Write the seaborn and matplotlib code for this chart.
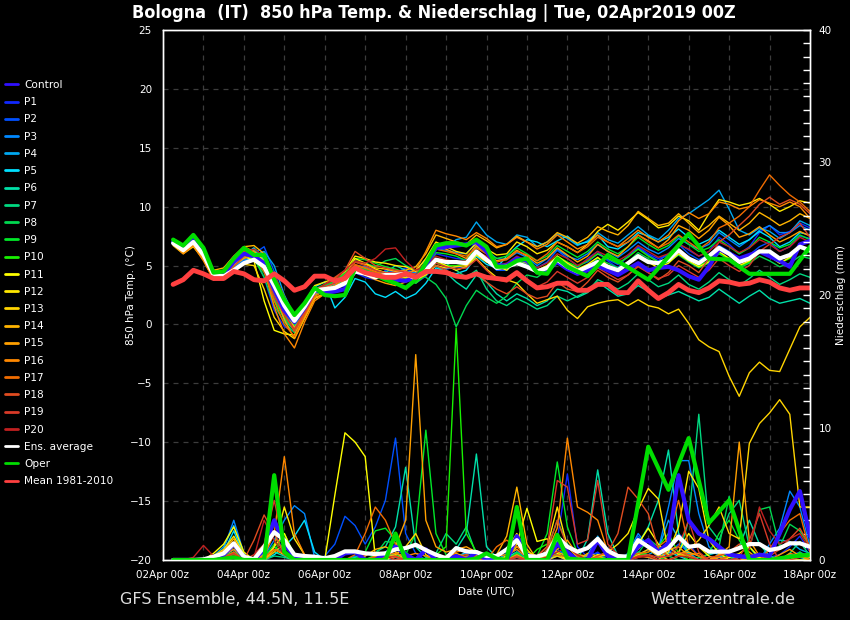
import numpy as np
import pandas as pd
import matplotlib
matplotlib.use("Agg")
import matplotlib.pyplot as plt
from matplotlib.lines import Line2D
from matplotlib.ticker import MultipleLocator
import seaborn as sns

# ------------------------------------------------------------
# DATA  (6-hourly steps, +6h ... +384h from 02Apr2019 00Z)
# ------------------------------------------------------------
STEPS = list(range(6, 385, 6))
OPER_STEPS = list(range(6, 241, 6)) + list(range(252, 385, 12))
TICK_HOURS = list(range(0, 385, 48))
TICK_LABELS = ["02Apr 00z", "04Apr 00z", "06Apr 00z", "08Apr 00z", "10Apr 00z",
               "12Apr 00z", "14Apr 00z", "16Apr 00z", "18Apr 00z"]

MEMBERS = ["Control"] + [f"P{i}" for i in range(1, 21)]
MEMBER_COLORS = ["#3010ff", "#1028ff", "#0050ff", "#0088ff", "#00a8f0", "#00e0ff",
                 "#00e0a8", "#00d880", "#00d850", "#00e828", "#18f000",
                 "#ffff00", "#ffe800", "#ffd400", "#ffb400", "#ffa000",
                 "#ff8800", "#f06c00", "#e04c20", "#d83a28", "#c02020"]
ENS_COLOR = "#ffffff"
OPER_COLOR = "#00dd00"
CLIM_COLOR = "#ff4040"

# --- 850 hPa temperature (°C) ---
T_ENS = [6.9, 6.3, 7.0, 5.9, 4.2, 4.1, 4.6, 5.2, 5.5, 4.9, 3.3, 1.6, 0.3, 1.5, 2.9, 3.0,
         3.1, 3.5, 4.5, 4.3, 4.0, 4.2, 4.2, 4.3, 3.9, 4.6, 5.5, 5.3, 5.3, 5.2, 6.2, 5.5,
         4.8, 4.9, 5.2, 4.9, 4.5, 4.8, 5.5, 4.9, 4.5, 4.9, 5.3, 4.9, 4.6, 5.2, 5.8, 5.3,
         5.2, 5.5, 6.3, 5.6, 5.2, 5.8, 6.5, 6.0, 5.3, 5.6, 6.2, 6.2, 5.6, 5.9, 6.6, 6.3]
T_CLIM = [3.4, 3.8, 4.6, 4.3, 3.9, 3.9, 4.5, 4.3, 3.8, 3.7, 4.3, 3.7, 2.9, 3.2, 4.1, 4.1,
          3.7, 3.9, 4.8, 4.4, 4.2, 4.0, 4.0, 4.3, 4.0, 4.5, 4.5, 4.4, 4.1, 4.0, 4.3, 4.0,
          3.9, 3.8, 4.4, 3.7, 3.1, 3.2, 3.5, 3.5, 2.9, 2.9, 3.4, 3.4, 2.7, 2.7, 3.7, 2.9,
          2.2, 2.7, 3.4, 2.9, 2.7, 3.1, 3.7, 3.6, 3.4, 3.5, 3.8, 3.6, 3.1, 2.9, 3.1, 3.1]
T_OPER = [7.2, 6.7, 7.6, 6.5, 4.4, 4.5, 5.6, 6.5, 5.9, 5.9, 3.8, 2.1, 0.8, 1.8, 3.1, 2.5,
          2.4, 2.5, 4.8, 4.5, 4.2, 3.8, 3.5, 3.1, 3.8, 5.2, 6.7, 6.9, 6.9, 6.7, 7.2, 6.6,
          4.9, 4.9, 5.4, 5.6, 4.4, 4.3, 5.6, 4.9,
          4.1, 5.9, 4.85, 3.8, 5.75, 7.7, 5.6, 5.5, 4.3, 4.3, 4.3, 6.6]

T_CONTROL = [7.0, 6.5, 7.3, 6.2, 4.3, 4.3, 5.3, 6.0, 5.8, 5.2, 3.0, 1.2, 0.2, 1.4, 2.9, 2.7,
             2.8, 3.0, 4.6, 4.4, 4.1, 4.0, 3.8, 3.7, 4.0, 5.0, 6.5, 6.6, 6.7, 6.8, 7.0, 6.2,
             5.0, 5.0, 5.6, 5.4, 4.5, 4.6, 5.3, 4.7, 4.3, 4.6, 5.0, 4.6, 4.2, 4.7, 5.2, 4.6,
             4.8, 4.9, 4.6, 4.1, 3.8, 4.9, 6.4, 6.0, 5.6, 5.9, 6.2, 5.8, 5.4, 4.9, 6.8, 7.1]
T_P1 = [7.1, 6.4, 7.2, 6.0, 4.0, 4.3, 5.0, 5.6, 5.8, 4.0, 1.2, -0.2, -0.6, 1.0, 2.6, 2.8,
        3.0, 3.3, 4.4, 4.0, 3.8, 4.6, 4.4, 4.8, 4.2, 4.9, 6.0, 5.8, 5.6, 5.5, 6.8, 6.0,
        5.2, 5.0, 5.6, 5.0, 4.3, 4.9, 5.8, 5.2, 4.8, 5.6, 6.2, 5.4, 4.8, 5.9, 6.6, 6.0,
        5.6, 5.9, 6.9, 6.3, 5.8, 6.2, 7.4, 6.8, 6.0, 6.6, 7.8, 8.4, 7.6, 7.9, 8.6, 8.2]
T_P2 = [6.8, 6.2, 6.9, 5.8, 4.3, 4.0, 4.8, 5.4, 6.0, 6.6, 4.5, 2.0, 0.6, 1.2, 2.8, 3.3,
        3.4, 3.8, 4.8, 4.7, 4.3, 4.3, 4.6, 4.0, 3.5, 4.1, 5.0, 4.7, 4.9, 4.8, 6.0, 5.5,
        4.6, 4.6, 5.4, 5.2, 4.8, 5.3, 6.3, 5.6, 5.0, 5.3, 6.0, 5.5, 5.1, 5.8, 6.5, 5.9,
        5.4, 6.0, 6.8, 6.0, 5.5, 5.9, 6.7, 6.2, 5.6, 5.9, 6.6, 7.0, 6.2, 6.6, 7.5, 7.3]
T_P3 = [7.0, 6.3, 7.0, 5.9, 4.1, 4.2, 4.9, 5.5, 5.6, 5.0, 2.6, 0.5, -0.3, 1.3, 3.0, 3.2,
        3.4, 4.0, 5.0, 4.9, 4.6, 4.4, 4.0, 4.5, 4.4, 5.1, 6.4, 6.3, 6.1, 6.0, 7.0, 6.3,
        5.6, 5.5, 6.1, 5.7, 5.0, 5.6, 6.4, 5.8, 5.5, 6.0, 6.8, 6.2, 5.7, 6.3, 7.0, 6.4,
        6.0, 6.5, 7.3, 6.8, 6.4, 6.8, 7.8, 7.2, 6.6, 7.2, 8.0, 8.4, 7.8, 7.8, 8.4, 8.0]
T_P4 = [7.2, 6.5, 7.1, 6.0, 4.4, 4.2, 4.7, 5.3, 5.9, 6.2, 5.0, 2.5, 0.7, 1.6, 2.9, 2.7,
        3.2, 3.3, 4.9, 4.6, 4.2, 4.5, 4.0, 4.4, 4.6, 5.5, 6.8, 6.5, 7.2, 7.4, 8.7, 7.6,
        7.0, 6.8, 7.6, 7.4, 6.6, 7.0, 7.7, 7.3, 6.7, 7.1, 7.8, 7.2, 6.9, 7.6, 8.3, 7.6,
        7.2, 8.0, 9.0, 9.4, 10.0, 10.6, 11.4, 9.8, 8.0, 7.6, 8.2, 7.9, 7.3, 7.8, 8.8, 8.4]
T_P5 = [7.0, 6.4, 7.0, 6.1, 4.5, 4.4, 5.0, 5.9, 6.5, 5.6, 3.5, 1.4, 0.1, 1.5, 3.2, 3.6,
        1.4, 2.3, 3.9, 3.6, 2.6, 2.3, 2.8, 2.2, 2.6, 3.5, 4.8, 4.5, 4.3, 4.6, 5.8, 5.1,
        4.8, 5.8, 6.6, 7.2, 7.0, 6.6, 7.1, 7.5, 6.8, 7.0, 7.6, 6.6, 6.4, 7.0, 7.8, 7.5,
        7.0, 7.4, 8.1, 7.4, 6.8, 7.2, 8.0, 7.4, 6.8, 7.2, 7.9, 7.4, 6.6, 7.0, 7.8, 7.6]
T_P6 = [6.9, 6.2, 6.8, 5.8, 4.2, 4.3, 4.9, 5.7, 6.3, 5.5, 3.0, 1.0, -0.2, 1.3, 2.8, 3.2,
        3.6, 3.7, 4.6, 4.4, 4.2, 4.4, 5.0, 4.6, 4.0, 4.4, 5.0, 4.4, 3.6, 3.0, 4.2, 3.6,
        2.6, 2.0, 2.6, 2.2, 1.6, 2.0, 3.0, 2.8, 2.3, 2.7, 3.6, 3.0, 2.4, 2.6, 3.3, 2.8,
        2.2, 2.5, 2.8, 2.4, 2.0, 2.3, 3.0, 2.4, 1.8, 2.4, 2.9, 2.2, 1.8, 2.0, 2.2, 1.8]
T_P7 = [7.1, 6.5, 7.3, 6.3, 4.5, 4.6, 5.4, 6.2, 6.0, 4.6, 2.2, 0.4, -0.5, 1.0, 2.5, 3.0,
        3.3, 3.8, 5.0, 4.7, 4.4, 4.3, 4.2, 4.0, 3.6, 4.3, 5.5, 5.2, 4.6, 4.0, 4.6, 3.0,
        2.0, 1.6, 2.2, 1.8, 1.3, 1.6, 2.4, 2.0, 2.4, 2.8, 3.8, 3.4, 3.0, 3.5, 4.3, 3.8,
        3.2, 3.5, 4.2, 3.4, 3.0, 3.6, 4.4, 3.8, 3.3, 3.9, 4.6, 4.0, 3.4, 3.8, 4.3, 4.0]
T_P8 = [7.0, 6.4, 7.1, 6.0, 4.3, 4.5, 5.2, 5.9, 5.6, 4.0, 1.6, 0.2, -0.7, 1.0, 2.8, 3.3,
        3.6, 4.3, 5.4, 5.2, 4.9, 5.4, 5.6, 5.0, 4.6, 4.0, 3.4, 2.2, -0.2, 1.6, 2.9, 2.3,
        1.8, 2.4, 3.5, 4.2, 4.0, 4.6, 5.4, 4.8, 4.4, 4.8, 5.6, 5.2, 4.8, 5.3, 6.1, 5.6,
        5.0, 5.3, 5.9, 5.3, 4.8, 5.2, 6.0, 5.5, 4.8, 5.2, 5.8, 5.4, 4.9, 5.2, 5.8, 5.6]
T_P9 = [7.3, 6.7, 7.5, 6.4, 4.6, 4.4, 5.5, 6.3, 6.1, 5.3, 2.8, 1.0, 0.0, 1.4, 3.0, 3.4,
        3.7, 4.4, 5.6, 5.5, 5.2, 4.9, 4.7, 4.4, 4.1, 4.8, 6.1, 6.0, 5.8, 5.4, 6.6, 6.1,
        5.6, 5.8, 6.5, 6.0, 5.4, 5.8, 6.7, 6.2, 5.7, 6.2, 7.0, 6.4, 6.0, 6.6, 7.4, 6.8,
        6.3, 6.7, 7.5, 6.8, 6.2, 6.5, 7.2, 6.6, 6.0, 6.5, 7.4, 7.0, 6.5, 6.8, 7.6, 7.2]
T_P10 = [7.2, 6.6, 7.4, 6.2, 4.4, 4.2, 5.2, 5.8, 5.5, 4.4, 2.0, 0.6, -0.4, 1.2, 2.7, 3.0,
         3.2, 3.6, 4.7, 4.4, 4.0, 4.1, 4.3, 3.9, 3.5, 4.2, 5.2, 5.0, 5.0, 5.1, 6.0, 5.4,
         4.8, 4.9, 5.4, 5.0, 4.5, 5.0, 5.8, 5.3, 4.9, 5.4, 6.0, 5.6, 5.2, 5.7, 6.4, 5.8,
         5.3, 5.6, 6.3, 5.6, 5.0, 5.4, 6.1, 5.5, 4.9, 5.3, 6.2, 5.8, 5.2, 5.6, 6.5, 6.1]
T_P11 = [6.8, 6.1, 6.9, 5.7, 4.0, 4.3, 5.1, 5.8, 5.4, 2.0, -0.5, -0.8, -0.9, 0.8, 2.4, 2.9,
         3.3, 4.0, 5.6, 5.2, 4.7, 4.4, 4.0, 4.3, 4.0, 4.6, 5.4, 5.0, 4.6, 4.9, 5.9, 5.3,
         5.0, 4.6, 5.5, 5.2, 4.6, 5.0, 5.8, 5.2, 4.7, 5.1, 5.7, 5.0, 4.6, 5.2, 5.9, 5.3,
         4.8, 5.2, 6.0, 5.4, 4.9, 5.3, 6.2, 5.6, 5.0, 5.4, 6.3, 5.8, 5.2, 5.7, 6.6, 6.3]
T_P12 = [7.0, 6.3, 7.1, 5.9, 4.2, 4.5, 5.6, 6.4, 6.2, 5.4, 3.4, 1.4, 0.2, 1.8, 3.3, 3.6,
         3.9, 4.5, 5.8, 5.6, 5.3, 5.2, 5.0, 4.9, 4.5, 5.6, 7.0, 6.6, 6.2, 6.0, 6.9, 6.4,
         5.9, 6.0, 7.0, 6.6, 6.0, 6.3, 7.0, 6.6, 6.1, 6.8, 7.9, 8.5, 8.0, 8.7, 9.5, 8.9,
         8.2, 8.4, 9.2, 8.8, 8.0, 9.4, 10.6, 10.4, 10.1, 10.3, 10.7, 10.2, 9.6, 10.0, 10.5, 10.3]
T_P13 = [6.7, 6.0, 6.6, 5.5, 3.8, 4.0, 4.5, 5.1, 5.0, 3.0, 0.6, -0.6, -1.2, 0.5, 2.2, 2.6,
         3.0, 3.6, 4.9, 4.6, 4.2, 4.0, 3.8, 4.0, 3.8, 4.2, 5.0, 4.8, 4.9, 5.0, 5.6, 4.7,
         4.0, 3.8, 3.5, 2.6, 1.8, 2.1, 2.4, 1.2, 0.5, 1.5, 1.8, 2.0, 2.1, 1.6, 2.1, 1.6,
         1.4, 0.9, 1.3, 0.1, -1.3, -1.9, -2.3, -4.4, -6.1, -4.1, -3.2, -3.9, -4.0, -2.1, -0.2, 0.6]
T_P14 = [7.1, 6.5, 7.2, 6.1, 4.6, 4.8, 5.8, 6.6, 6.7, 6.0, 4.0, 1.5, -0.3, 0.9, 2.6, 3.1,
         3.5, 4.2, 5.3, 5.1, 4.8, 4.7, 4.5, 4.6, 4.9, 6.0, 7.6, 7.3, 7.0, 6.8, 7.6, 7.1,
         6.5, 6.8, 7.5, 7.0, 6.6, 7.0, 7.8, 7.4, 6.9, 7.4, 8.3, 7.9, 7.6, 8.4, 9.6, 9.0,
         8.4, 8.6, 9.4, 8.6, 7.8, 8.4, 9.2, 8.6, 8.0, 8.6, 9.5, 9.0, 8.4, 8.8, 9.4, 9.0]
T_P15 = [6.9, 6.2, 6.8, 5.6, 4.0, 4.2, 5.0, 5.6, 5.9, 5.3, 2.9, 0.4, -1.2, 0.6, 2.3, 2.6,
         2.9, 3.5, 4.6, 4.2, 3.8, 3.5, 3.3, 3.6, 4.0, 5.4, 6.8, 6.4, 6.0, 5.6, 6.7, 6.0,
         5.4, 5.6, 6.3, 5.8, 5.2, 5.6, 6.5, 5.9, 5.3, 5.8, 6.8, 6.2, 5.8, 6.6, 7.6, 7.1,
         6.5, 7.2, 8.4, 8.0, 7.3, 8.0, 9.1, 8.4, 7.4, 7.7, 8.3, 7.6, 7.0, 7.4, 7.9, 7.5]
T_P16 = [6.8, 6.0, 6.7, 5.4, 3.8, 4.3, 5.4, 6.6, 6.2, 4.8, 1.5, -0.8, -2.0, 0.2, 2.0, 2.6,
         3.0, 3.8, 5.0, 4.8, 4.5, 4.2, 3.9, 4.3, 4.6, 6.2, 8.0, 7.7, 7.5, 7.2, 7.8, 7.3,
         6.6, 6.8, 7.4, 7.0, 6.4, 6.8, 7.6, 7.0, 6.4, 6.8, 7.6, 7.0, 6.6, 7.3, 8.0, 7.4,
         7.0, 7.6, 8.8, 9.5, 9.0, 9.4, 10.4, 10.2, 9.8, 10.0, 10.6, 10.3, 10.0, 10.4, 10.0, 9.0]
T_P17 = [7.0, 6.4, 7.0, 5.8, 4.2, 4.6, 5.6, 6.2, 5.8, 4.5, 2.0, 0.0, -1.0, 0.8, 2.4, 2.9,
         3.3, 4.0, 5.1, 4.8, 4.4, 4.3, 4.0, 4.2, 4.3, 5.2, 6.4, 6.2, 6.0, 5.8, 6.5, 6.0,
         5.3, 5.5, 6.2, 5.9, 5.4, 6.0, 7.0, 6.6, 6.1, 6.6, 7.4, 7.0, 6.6, 7.0, 7.6, 7.0,
         6.5, 6.9, 7.6, 7.0, 6.4, 7.0, 8.2, 8.6, 9.2, 10.0, 11.4, 12.7, 11.8, 11.0, 10.4, 9.6]
T_P18 = [6.9, 6.3, 6.9, 5.7, 4.0, 4.0, 4.9, 5.8, 5.9, 5.2, 2.8, 0.9, -0.6, 0.9, 2.6, 3.4,
         4.0, 4.6, 6.2, 5.6, 5.0, 4.8, 4.6, 4.5, 4.2, 4.5, 5.0, 4.6, 4.2, 4.0, 4.4, 3.6,
         3.0, 2.6, 3.2, 2.6, 2.2, 2.4, 3.6, 3.0, 2.8, 3.6, 4.6, 4.0, 3.6, 4.2, 5.0, 4.4,
         3.8, 4.4, 5.4, 5.0, 4.4, 5.6, 7.0, 7.6, 8.4, 9.2, 10.2, 10.8, 10.2, 10.6, 10.2, 9.4]
T_P19 = [7.0, 6.4, 7.1, 6.0, 4.4, 4.4, 5.3, 6.0, 5.7, 4.6, 2.4, 0.8, -0.4, 1.1, 2.8, 3.2,
         3.5, 4.2, 5.3, 5.0, 4.6, 4.4, 4.4, 4.5, 4.2, 4.6, 5.2, 4.9, 4.7, 4.8, 5.5, 4.6,
         3.8, 3.6, 4.2, 3.8, 3.2, 3.6, 4.5, 4.0, 3.5, 4.0, 4.8, 4.3, 3.8, 4.2, 4.9, 4.4,
         3.9, 4.2, 5.0, 4.5, 4.0, 4.6, 5.6, 5.0, 4.5, 5.0, 6.2, 6.8, 7.4, 7.8, 8.6, 7.4]
T_P20 = [6.9, 6.3, 7.0, 5.9, 4.3, 4.5, 5.4, 6.1, 6.4, 5.8, 4.2, 2.4, 0.4, 1.4, 2.9, 3.4,
         3.8, 4.6, 5.4, 5.2, 5.6, 6.4, 6.5, 5.4, 4.6, 5.0, 5.8, 5.5, 5.3, 5.4, 6.2, 5.8,
         5.0, 5.2, 5.8, 5.4, 4.8, 5.2, 6.0, 5.6, 5.0, 5.5, 6.2, 5.8, 5.4, 5.9, 6.7, 6.2,
         5.7, 6.0, 6.8, 6.4, 5.8, 6.2, 7.0, 6.6, 6.1, 6.5, 7.2, 6.8, 6.2, 6.6, 7.4, 7.0]

# --- 6-hourly precipitation (mm) ---
P_ENS = [0.0, 0.0, 0.0, 0.05, 0.25, 0.5, 1.26, 0.25, 0.05, 1.0, 2.1, 1.5, 0.4, 0.3, 0.25, 0.13,
         0.3, 0.65, 0.65, 0.5, 0.45, 0.5, 0.8, 0.9, 1.15, 0.75, 0.4, 0.13, 0.9, 0.65, 0.6, 0.3,
         0.3, 0.8, 1.5, 0.3, 0.25, 0.5, 1.76, 1.0, 0.63, 0.9, 1.6, 0.7, 0.3, 0.25, 1.5, 1.0,
         0.5, 0.9, 1.76, 1.0, 1.1, 0.63, 0.63, 0.63, 0.9, 1.2, 1.2, 0.75, 0.9, 1.26, 1.26, 1.0]
P_OPER = [0, 0, 0, 0, 0, 0.1, 0.2, 0, 0, 0, 6.4, 0.6, 0, 0, 0, 0,
          0, 0, 0, 0, 0, 0, 2.0, 0, 0, 0, 0, 0, 0, 0, 0.1, 0.5,
          0.1, 0, 4.0, 0, 0, 0, 1.9, 0.1,
          0, 0, 0, 8.55, 5.3, 9.2, 2.8, 4.5, 0, 0, 0.25, 0.4]

P_CONTROL = [0, 0, 0, 0, 0, 0.4, 1.2, 0.2, 0, 0.8, 3.0, 1.2, 0.3, 0, 0, 0,
             0, 0.5, 0.6, 0, 0, 0.5, 1.0, 0.4, 0, 0.8, 0, 0, 0.3, 0, 0.6, 0,
             0, 0, 1.8, 0.4, 0, 0, 1.2, 0.6, 0, 0, 1.5, 0.3, 0, 0, 1.0, 1.5,
             0.6, 1.3, 6.4, 3.0, 2.0, 1.6, 1.0, 0.4, 0.3, 0.2, 0.4, 0.3, 2.0, 3.8, 5.2, 1.8]
P_P1 = [0, 0, 0, 0, 0, 0.2, 0.6, 0, 0, 0.4, 2.0, 0.6, 0, 0, 0, 0,
        0, 0, 0, 0, 0, 0.3, 1.2, 0.2, 0, 0, 0, 0, 0.2, 0.5, 0, 0,
        0, 0, 0.6, 0, 0, 0.4, 1.5, 6.5, 1.0, 0.2, 0.6, 0, 0, 0, 0.4, 0.8,
        0.3, 0.6, 2.0, 1.2, 0.3, 0, 0.2, 0, 0.3, 0, 0, 0.2, 0.4, 1.0, 1.8, 0.6]
P_P2 = [0, 0, 0, 0, 0, 0.3, 0.8, 0, 0, 0.2, 1.0, 0.4, 0, 0, 0, 0.3,
        1.2, 3.3, 2.6, 1.2, 2.5, 4.5, 9.2, 2.0, 0.5, 0, 0, 0, 0, 0.2, 0.4, 0,
        0, 0.3, 0.8, 0, 0, 0.2, 0.6, 0.3, 0, 0.4, 0.5, 0, 0, 0.3, 1.8, 0.9,
        0.2, 0.5, 1.2, 0.6, 0, 0, 0.3, 0, 0, 0.2, 0.5, 0, 0, 0.3, 0.6, 0.2]
P_P3 = [0, 0, 0, 0, 0.2, 0.8, 3.0, 0.5, 0, 0.3, 1.5, 3.0, 4.1, 3.5, 0.2, 0,
        0, 0, 0.3, 0, 0, 0.2, 0.5, 0, 0, 0, 0, 0, 0, 0.3, 0.2, 0,
        0, 0, 0.4, 0, 0, 0, 0.8, 0.3, 0, 0, 0.4, 0, 0, 0.5, 2.0, 1.0,
        0.8, 4.0, 7.5, 7.5, 3.5, 1.0, 0.3, 0, 0, 0, 0, 1.2, 2.4, 5.2, 4.0, 1.0]
P_P4 = [0, 0, 0, 0, 0.3, 1.0, 2.6, 0.4, 0, 0.5, 3.0, 1.0, 0.2, 0, 0, 0,
        0, 0, 0, 0, 0, 0, 0.2, 0.4, 0, 0, 0, 0, 0, 0, 0.3, 0,
        0, 0.5, 1.6, 0.3, 0, 0, 0.3, 0, 0, 0.3, 1.8, 0.4, 0, 0, 0.6, 0.4,
        0.8, 3.0, 1.6, 0.4, 0, 0, 0.2, 0, 0.2, 0, 0, 0.9, 1.5, 1.4, 0.8, 0.5]
P_P5 = [0, 0, 0, 0, 0.2, 0.6, 2.2, 0.3, 0, 0, 0.4, 1.0, 1.8, 3.0, 0.6, 0,
        0, 0, 0, 0, 0, 0.3, 0.2, 0, 0, 0, 0, 0, 0.2, 0.6, 0.3, 0,
        0, 0.2, 0.6, 0, 0, 0, 0.4, 0.2, 0, 0.4, 1.6, 0.8, 0, 0, 0.4, 0.2,
        0, 0.6, 0.3, 0, 0.2, 0.4, 0.6, 0.3, 0, 0, 0.2, 0, 0, 0.4, 0.2, 0]
P_P6 = [0, 0, 0, 0, 0, 0.3, 0.8, 0, 0, 0, 0.6, 0.3, 0, 0, 0, 0,
        0, 0, 0.2, 0.4, 0.6, 1.0, 2.5, 7.0, 1.0, 0.2, 0, 0.3, 0.8, 2.0, 8.0, 1.0,
        0.2, 0, 0.3, 0, 0, 0.2, 0.5, 0, 0, 1.6, 6.8, 2.0, 0.3, 0, 1.2, 2.5,
        4.5, 8.3, 2.0, 0.5, 0, 0, 0.2, 0.6, 1.0, 3.0, 1.2, 0.3, 0, 0, 0, 0]
P_P7 = [0, 0, 0, 0, 0, 0.2, 0.5, 0, 0, 0, 0.3, 0.2, 0, 0, 0, 0,
        0, 0, 0, 0, 0.3, 0.5, 0.3, 0, 0, 0, 0.5, 2.0, 1.2, 2.5, 0.4, 0,
        0, 0, 0.2, 0, 0, 0.8, 3.0, 1.2, 0.3, 0, 0.4, 0, 0, 0, 0.6, 0.3,
        0, 1.0, 0.4, 3.0, 11.0, 2.5, 1.5, 3.5, 4.5, 1.0, 0, 0, 0, 0.5, 1.4, 0.3]
P_P8 = [0, 0, 0, 0, 0, 0.2, 0.5, 0.2, 0, 0, 1.0, 0.4, 0, 0, 0, 0,
        0, 0, 0, 0, 0.4, 1.4, 1.3, 0.6, 0, 0, 0, 0, 0, 0, 0.3, 0,
        0, 0, 0.6, 0, 0, 0.3, 1.5, 0.2, 0, 0, 0.3, 0, 0, 0, 0.5, 1.6,
        1.0, 0.3, 0, 0, 0.2, 0.4, 1.0, 4.8, 2.0, 0.8, 3.8, 4.0, 1.0, 2.7, 2.2, 1.0]
P_P9 = [0, 0, 0, 0, 0, 0.3, 0.6, 0, 0, 0.2, 1.2, 1.0, 0.2, 0, 0, 0,
        0, 0, 0, 0.6, 2.2, 2.4, 1.5, 0.4, 2.0, 9.8, 2.0, 0.4, 0, 0, 0.2, 0,
        0, 0, 0.5, 0, 0.3, 2.0, 7.4, 2.5, 0.5, 0, 0.3, 0, 0, 0, 0.4, 0.3,
        0, 0.3, 0.6, 0.2, 0, 0.5, 2.0, 3.0, 1.5, 0.3, 0, 0, 0, 0, 0.6, 0]
P_P10 = [0, 0, 0, 0, 0, 0.4, 1.0, 0, 0, 0, 0.6, 2.0, 0.4, 0, 0, 0,
         0, 0, 0, 0, 0, 0.2, 0.4, 0, 0, 0, 0.4, 1.0, 17.5, 2.0, 0.6, 0.2,
         0, 0, 0.3, 0, 0.8, 1.2, 0.6, 0, 0, 0, 0.2, 0, 0, 0, 0.3, 0.6,
         1.0, 2.0, 0.5, 0, 0, 0, 0.4, 0.2, 0, 0, 0, 0, 0, 0.2, 0.5, 0.2]
P_P11 = [0, 0, 0, 0, 0.5, 1.2, 2.5, 0.6, 0, 0, 1.0, 2.0, 0.3, 0, 0, 0,
         4.9, 9.6, 8.9, 7.8, 0.2, 0, 0.3, 0, 0, 0, 0, 0, 0, 0.2, 0.4, 0,
         0, 0.3, 1.2, 3.9, 1.4, 1.6, 0.5, 0, 0, 0, 0.4, 0.3, 0, 0.4, 1.2, 2.4,
         1.2, 0.4, 0.6, 2.0, 1.0, 0.3, 0, 0.2, 0.5, 1.0, 0.2, 0, 0, 0, 0, 0]
P_P12 = [0, 0, 0, 0, 0.3, 0.8, 1.8, 0.4, 0, 0, 1.0, 4.0, 1.6, 0.4, 0, 0,
         0, 0, 0, 0, 0.2, 0.3, 0, 0, 0, 0, 0, 0, 0, 0, 0, 0.2,
         0.3, 0.8, 2.0, 0.6, 0.3, 1.0, 4.0, 1.0, 0.2, 0, 0.3, 0.6, 1.2, 2.0, 3.8, 5.4,
         4.6, 0.6, 2.5, 6.7, 5.4, 1.5, 0.5, 0, 0, 0, 0.2, 0, 0, 0, 0.3, 0]
P_P13 = [0, 0, 0, 0, 0.2, 0.5, 1.2, 0.2, 0, 0, 0.8, 0.4, 0, 0, 0, 0,
         0, 0, 0, 0, 0, 0.2, 0.4, 1.0, 2.0, 0.4, 0, 0, 0, 0, 0.2, 0,
         0, 0.2, 1.0, 0.8, 0, 0, 0.3, 0, 0, 0, 0.2, 0.5, 0, 0, 0.4, 0.8,
         0.3, 1.0, 0.4, 0.8, 1.5, 2.6, 4.0, 2.0, 1.6, 8.8, 10.3, 11.1, 12.1, 11.0, 4.0, 4.0]
P_P14 = [0, 0, 0, 0, 0.3, 0.7, 1.6, 0.3, 0, 0.4, 2.2, 1.6, 0.4, 0, 0, 0,
         0, 0, 0, 0.3, 0.8, 1.0, 0.6, 0, 0, 0, 0, 0.3, 0.5, 0.2, 0, 0,
         0.4, 1.8, 5.5, 1.2, 0, 0.4, 0.6, 0.3, 0, 0.5, 0.3, 0, 0, 0.3, 0.8, 1.6,
         0.4, 0, 0.3, 0.6, 0.3, 0, 0.4, 0.6, 1.0, 0.6, 0, 0, 0, 0.2, 0.4, 0.2]
P_P15 = [0, 0, 0, 0, 0, 0.3, 1.0, 0.2, 0, 0, 0.6, 1.2, 0.3, 0, 0, 0,
         0, 0, 0, 0, 0.2, 0.6, 1.0, 3.0, 15.5, 3.0, 1.0, 0.6, 0.8, 1.0, 0.6, 0.3,
         0, 0, 0.4, 0, 0, 0.3, 0.8, 1.5, 0.4, 0.3, 0, 0, 0, 0, 0.2, 0.4,
         0, 0.8, 1.0, 0.3, 0, 0, 0.4, 1.0, 8.9, 1.5, 0.3, 0, 0.4, 0.8, 0.3, 0]
P_P16 = [0, 0, 0, 0, 0, 0.4, 0.8, 0.2, 0, 0.3, 2.0, 7.8, 2.0, 0.4, 0, 0,
         0, 0, 0, 0, 0.3, 0.4, 0.5, 0.3, 0.5, 0.3, 0, 0, 0.6, 0.8, 0.4, 0.2,
         0.3, 0.4, 0.8, 0.2, 0, 0.6, 2.4, 9.2, 4.0, 3.6, 3.0, 0.6, 0, 0, 0.3, 0.2,
         0, 0, 0.3, 0.4, 0.5, 0, 0.2, 0, 0, 0, 0, 0, 0, 0.5, 0.3, 0]
P_P17 = [0, 0, 0, 0, 0, 0.2, 0.6, 0, 0, 0.2, 0.8, 0.5, 0, 0, 0, 0,
         0, 0, 0.4, 2.0, 4.0, 3.0, 1.2, 0.4, 0, 0, 0, 0, 0.3, 0.4, 0.2, 0,
         1.0, 1.5, 1.0, 0.3, 0, 0.2, 0.4, 0.2, 0, 0, 0.2, 0, 0, 0.3, 0.5, 0.6,
         1.0, 1.6, 4.5, 1.0, 0.3, 0, 0, 0.3, 0.4, 0, 0, 0.8, 2.0, 3.0, 3.5, 0.6]
P_P18 = [0, 0, 0, 0, 0.3, 0.2, 0.4, 0, 1.5, 3.4, 2.0, 0.5, 0, 0, 0, 0,
         0, 0, 0, 0, 0.2, 0.3, 0.2, 0, 0, 0, 0.3, 0.2, 0, 0, 0.4, 0.2,
         0, 0, 0.3, 0, 0, 0.8, 3.0, 1.0, 0.3, 0, 0.3, 0.6, 2.0, 5.5, 4.6, 3.5,
         0.8, 0.3, 0.6, 0.4, 0, 0.2, 0.3, 0.6, 1.2, 0.4, 0, 0.3, 0.8, 1.6, 2.4, 1.0]
P_P19 = [0, 0, 0, 0, 0, 0.2, 0.5, 0, 0.4, 1.2, 4.5, 1.0, 0.3, 0, 0, 0,
         0, 0, 0, 0, 0, 0.2, 0.3, 0, 0, 0, 0, 0, 0.3, 0.2, 0, 0,
         0, 0, 0.2, 0, 0.3, 1.0, 6.0, 5.5, 1.2, 1.5, 6.0, 1.2, 0.4, 0, 0.3, 0.4,
         0.2, 0.3, 1.0, 3.0, 0.6, 0, 0, 0, 0.2, 1.5, 3.5, 1.2, 0, 0, 0.2, 0.4]
P_P20 = [0, 0, 0.2, 1.1, 0.3, 0, 0.3, 0, 0.2, 3.0, 1.5, 0.4, 0, 0, 0, 0,
         0, 0, 0, 0.4, 0.6, 0.3, 0, 0, 0, 0, 0, 0, 0, 0, 0.2, 0,
         0, 0, 0, 0, 0, 0.2, 0.6, 1.0, 0.4, 0, 0, 0, 0, 0, 0.2, 0.3,
         0, 0, 0.3, 0.2, 0, 0, 0, 0, 0, 0.8, 4.0, 2.2, 1.2, 1.6, 2.0, 0.8]

TEMP_LISTS = [T_CONTROL, T_P1, T_P2, T_P3, T_P4, T_P5, T_P6, T_P7, T_P8, T_P9, T_P10,
              T_P11, T_P12, T_P13, T_P14, T_P15, T_P16, T_P17, T_P18, T_P19, T_P20]
PREC_LISTS = [P_CONTROL, P_P1, P_P2, P_P3, P_P4, P_P5, P_P6, P_P7, P_P8, P_P9, P_P10,
              P_P11, P_P12, P_P13, P_P14, P_P15, P_P16, P_P17, P_P18, P_P19, P_P20]

# ------------------------------------------------------------
# LONG FORMAT
# ------------------------------------------------------------
df = pd.DataFrame({
    "hour": STEPS * len(MEMBERS),
    "member": np.repeat(MEMBERS, len(STEPS)),
    "temp": np.concatenate(TEMP_LISTS),
    "precip": np.concatenate(PREC_LISTS),
})
df_pert = df[df["member"] != "Control"]
df_ctrl = df[df["member"] == "Control"]
palette = dict(zip(MEMBERS, MEMBER_COLORS))

# ------------------------------------------------------------
# STYLE
# ------------------------------------------------------------
sns.set_style("dark", {
    "axes.facecolor": "black",
    "figure.facecolor": "black",
    "axes.edgecolor": "white",
    "text.color": "white",
    "axes.labelcolor": "white",
    "xtick.color": "white",
    "ytick.color": "white",
})
plt.rcParams["font.family"] = ["DejaVu Sans"]

GRID = dict(color="#3c3c3c", linestyle=(0, (4, 4)), linewidth=0.9)

fig = plt.figure(figsize=(8.5, 6.2), dpi=100)
ax = fig.add_axes([163 / 850, 60 / 620, 647 / 850, 530 / 620])
ax2 = ax.twinx()
ax2.set_facecolor("none")

# ------------------------------------------------------------
# TEMPERATURE (left axis)
# ------------------------------------------------------------
sns.lineplot(data=df_pert, x="hour", y="temp", hue="member", palette=palette,
             hue_order=MEMBERS[1:], linewidth=1, estimator=None, legend=False, ax=ax)
sns.lineplot(data=df_ctrl, x="hour", y="temp", color=MEMBER_COLORS[0],
             linewidth=3, estimator=None, ax=ax)
sns.lineplot(x=STEPS, y=T_ENS, color=ENS_COLOR, linewidth=3, ax=ax)
sns.lineplot(x=OPER_STEPS, y=T_OPER, color=OPER_COLOR, linewidth=3, ax=ax)
sns.lineplot(x=STEPS, y=T_CLIM, color=CLIM_COLOR, linewidth=3.5, ax=ax)

# ------------------------------------------------------------
# PRECIPITATION (right axis)
# ------------------------------------------------------------
sns.lineplot(data=df_pert, x="hour", y="precip", hue="member", palette=palette,
             hue_order=MEMBERS[1:], linewidth=1, estimator=None, legend=False, ax=ax2)
sns.lineplot(data=df_ctrl, x="hour", y="precip", color=MEMBER_COLORS[0],
             linewidth=3, estimator=None, ax=ax2)
sns.lineplot(x=STEPS, y=P_ENS, color=ENS_COLOR, linewidth=3, ax=ax2)
sns.lineplot(x=OPER_STEPS, y=P_OPER, color=OPER_COLOR, linewidth=3, ax=ax2)

# ------------------------------------------------------------
# AXES
# ------------------------------------------------------------
ax.set_xlim(0, 384)
ax.set_ylim(-20, 25)
ax.set_xticks(TICK_HOURS)
ax.set_xticklabels(TICK_LABELS)
ax.xaxis.set_minor_locator(MultipleLocator(24))
ax.set_yticks(range(-20, 26, 5))
ax.grid(False)
ax.grid(True, which="both", axis="x", **GRID)
ax.grid(True, which="major", axis="y", **GRID)
ax.set_axisbelow(True)
ax.tick_params(axis="both", which="both", length=0, labelsize=7.5)
ax.tick_params(axis="x", pad=7)
ax.tick_params(axis="y", pad=8)
ax.set_xlabel("Date (UTC)", fontsize=7.5, labelpad=5)
ax.set_ylabel("850 hPa Temp. (°C)", fontsize=7.5)
ax.yaxis.set_label_coords(-0.042, 0.5)

ax2.set_ylim(0, 40)
ax2.set_yticks([0, 10, 20, 30, 40])
ax2.yaxis.set_minor_locator(MultipleLocator(1))
ax2.grid(False)
ax2.tick_params(axis="y", which="both", direction="in", length=5, width=1,
                color="white", labelsize=7.5, pad=6)
ax2.set_ylabel("Niederschlag (mm)", fontsize=7.5)
ax2.yaxis.set_label_coords(1.040, 0.5)
ax2.set_xlabel("")

for a in (ax, ax2):
    for s in a.spines.values():
        s.set_color("white")
        s.set_linewidth(1)

# ------------------------------------------------------------
# TEXTS + LEGEND
# ------------------------------------------------------------
fig.text(0.511, 0.979, "Bologna  (IT)  850 hPa Temp. & Niederschlag | Tue, 02Apr2019 00Z",
         ha="center", va="center", fontsize=12.9, fontweight="bold",
         fontstretch="condensed", color="white")
fig.text(120 / 850, 1 - 600 / 620, "GFS Ensemble, 44.5N, 11.5E",
         ha="left", va="center", fontsize=11.5, color="#dddddd")
fig.text(795 / 850, 1 - 600 / 620, "Wetterzentrale.de",
         ha="right", va="center", fontsize=11.5, color="#dddddd")

labels = MEMBERS + ["Ens. average", "Oper", "Mean 1981-2010"]
colors = MEMBER_COLORS + [ENS_COLOR, OPER_COLOR, CLIM_COLOR]
handles = [Line2D([0], [0], color=c, linewidth=2) for c in colors]
fig.legend(handles, labels, loc="upper left", bbox_to_anchor=(5 / 850, 1 - 80 / 620),
           frameon=False, fontsize=7.6, labelcolor="white", handlelength=1.2,
           handletextpad=0.6, labelspacing=0.685, borderpad=0, borderaxespad=0)

fig.savefig("out.png", dpi=100, facecolor="black")
